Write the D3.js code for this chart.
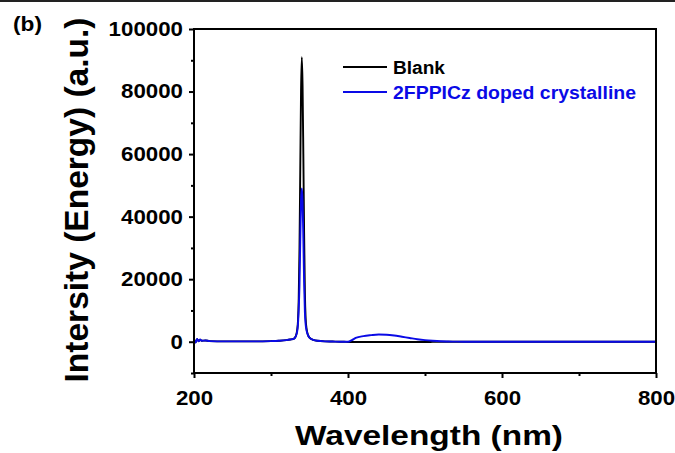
<!DOCTYPE html>
<html>
<head>
<meta charset="utf-8">
<script src="https://cdn.jsdelivr.net/npm/d3@7"></script>
<style>
  body { margin: 0; background: #fff; }
  svg { display: block; }
  text { font-family: "Liberation Sans", Arial, sans-serif; font-weight: bold; fill: #000; }
</style>
</head>
<body>
<div id="chart"></div>
<script>
// wavelength (nm), sampled densely around the 340 nm line
var wavelengths = [200, 202, 204, 206, 208, 210, 215, 220, 240, 260, 280, 300, 310, 320, 325, 330, 332, 334, 335, 336, 337, 338, 339, 340, 341, 342, 343, 344, 345, 346, 348, 350, 355, 360, 370, 380, 390, 395, 400, 405, 410, 420, 430, 440, 450, 460, 470, 480, 490, 500, 510, 520, 530, 540, 550, 560, 580, 600, 650, 700, 750, 800];

var blank = [900, -200, 800, 200, 600, 300, 400, 200, 100, 100, 100, 200, 300, 500, 700, 1000, 1700, 3800, 6500, 14000, 30000, 55000, 80000, 91000, 82000, 60000, 35000, 16000, 7500, 4500, 2200, 1300, 600, 300, 100, 50, 0, 0, -100, -100, -100, -100, -100, -100, -100, -100, -100, -100, -100, -100, -50, 0, 0, 0, 0, 0, 0, 0, 0, 0, 0, 0];

var doped = [800, -300, 900, 100, 700, 300, 400, 200, 100, 100, 100, 200, 300, 500, 700, 1000, 1600, 3300, 5500, 10500, 18000, 32000, 45000, 49000, 45000, 33000, 19000, 9500, 5500, 3800, 2100, 1300, 600, 300, 100, 50, 0, 0, 0, 500, 1200, 1800, 2100, 2300, 2250, 2000, 1600, 1200, 800, 500, 300, 150, 80, 30, 0, 0, 0, 0, 0, 0, 0, 0];

var yMajor = [0, 20000, 40000, 60000, 80000, 100000];
var yMinor = [-10000, 10000, 30000, 50000, 70000, 90000];
var xMajor = [200, 400, 600, 800];
var xMinor = [300, 500, 700];

var seriesNames = ["Blank", "2FPPICz doped crystalline"];
var seriesColors = ["#000000", "#0a0ae6"];

var width = 675, height = 453;
var plotLeft = 194, plotRight = 656, plotTop = 29, plotBottom = 373;

var svg = d3.select("#chart").append("svg")
    .attr("width", width)
    .attr("height", height);

// thin rule across the very top of the figure
svg.append("line")
    .attr("x1", 0).attr("x2", width)
    .attr("y1", 1).attr("y2", 1)
    .attr("stroke", "#222")
    .attr("stroke-width", 2);

var x = d3.scaleLinear().domain([200, 800]).range([plotLeft, plotRight]);
var y = d3.scaleLinear().domain([-10000, 100000]).range([plotBottom, plotTop]);

function digitLength(s) { return s.length * 12.4; }

// curves
var line = d3.line()
    .x(d => x(d[0]))
    .y(d => y(d[1]))
    .curve(d3.curveMonotoneX);

[blank, doped].forEach(function(vals, i) {
    svg.append("path")
        .datum(wavelengths.map((w, k) => [w, vals[k]]))
        .attr("fill", "none")
        .attr("stroke", seriesColors[i])
        .attr("stroke-width", 1.9)
        .attr("stroke-linejoin", "round")
        .attr("d", line);
});

// axes
var yAxis = svg.append("g")
    .attr("transform", `translate(${plotLeft},0)`)
    .call(d3.axisLeft(y).tickValues(yMajor).tickSize(5).tickPadding(6).tickFormat(d3.format("d")));
var yMinorAxis = svg.append("g")
    .attr("transform", `translate(${plotLeft},0)`)
    .call(d3.axisLeft(y).tickValues(yMinor).tickSize(3).tickFormat(""));
var xAxis = svg.append("g")
    .attr("transform", `translate(0,${plotBottom})`)
    .call(d3.axisBottom(x).tickValues(xMajor).tickSize(5).tickPadding(13).tickFormat(d3.format("d")));
var xMinorAxis = svg.append("g")
    .attr("transform", `translate(0,${plotBottom})`)
    .call(d3.axisBottom(x).tickValues(xMinor).tickSize(3).tickFormat(""));

[yAxis, yMinorAxis, xAxis, xMinorAxis].forEach(function(g) {
    g.select(".domain").remove();
    g.selectAll(".tick line").attr("stroke", "#000").attr("stroke-width", 2);
    g.selectAll(".tick text")
        .style("font-size", "20px")
        .attr("fill", "#000")
        .each(function() {
            var t = d3.select(this);
            if (t.text()) t.attr("textLength", digitLength(t.text())).attr("lengthAdjust", "spacingAndGlyphs");
        });
});

// frame
svg.append("rect")
    .attr("x", plotLeft).attr("y", plotTop)
    .attr("width", plotRight - plotLeft).attr("height", plotBottom - plotTop)
    .attr("fill", "none")
    .attr("stroke", "#000")
    .attr("stroke-width", 2);

// legend
seriesNames.forEach(function(name, i) {
    var ly = 67 + i * 25;
    svg.append("line")
        .attr("x1", 343).attr("x2", 387)
        .attr("y1", ly).attr("y2", ly)
        .attr("stroke", seriesColors[i])
        .attr("stroke-width", 1.9);
    svg.append("text")
        .attr("x", 393).attr("y", ly + 6.5)
        .style("font-size", "18px")
        .style("fill", seriesColors[i])
        .attr("textLength", i === 0 ? 52 : 243)
        .attr("lengthAdjust", "spacingAndGlyphs")
        .text(name);
});

// labels
svg.append("text")
    .attr("x", 13).attr("y", 31)
    .style("font-size", "20px")
    .attr("textLength", 29)
    .attr("lengthAdjust", "spacingAndGlyphs")
    .text("(b)");

svg.append("text")
    .attr("transform", "translate(88,200) rotate(-90)")
    .attr("text-anchor", "middle")
    .style("font-size", "34px")
    .attr("textLength", 365)
    .attr("lengthAdjust", "spacingAndGlyphs")
    .text("Intersity (Energy) (a.u.)");

svg.append("text")
    .attr("x", 429).attr("y", 445)
    .attr("text-anchor", "middle")
    .style("font-size", "27px")
    .attr("textLength", 268)
    .attr("lengthAdjust", "spacingAndGlyphs")
    .text("Wavelength (nm)");
</script>
</body>
</html>
